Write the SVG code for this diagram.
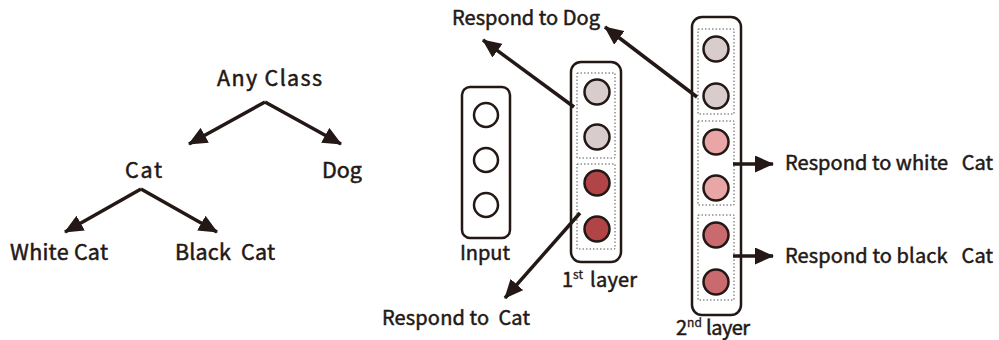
<svg xmlns="http://www.w3.org/2000/svg" width="999" height="340" viewBox="0 0 999 340">
<style>
text{font-family:"Noto Sans CJK SC","Noto Sans",sans-serif;font-size:20px;font-weight:400;fill:#231815;stroke:#231815;stroke-width:0.5}
.t{font-size:21.5px}
.sup{font-size:12px;stroke-width:0.3}
.edge{stroke:#231815;stroke-width:3.5;fill:none}
.box{fill:#fff;stroke:#231815;stroke-width:2.5}
.grp{fill:none;stroke:#555;stroke-width:1;stroke-dasharray:1.5 2}
.n{stroke:#231815;stroke-width:2.5}
.w{fill:#fff}
.g{fill:#d8cccd}
.r{fill:#b04446}
.p{fill:#e8a6a6}
.m{fill:#c86a6e}
</style>
<defs>
<marker id="ah" markerUnits="userSpaceOnUse" markerWidth="21" markerHeight="17" refX="18" refY="8.5" orient="auto">
<path d="M0,0 L19,8.5 L0,17 Z" fill="#231815"/>
</marker>
</defs>
<g id="tree-labels">
<g id="any"><text class="t" x="217" y="86" textLength="105" lengthAdjust="spacing">Any Class</text></g>
<g id="cat"><text class="t" x="125" y="178" textLength="37" lengthAdjust="spacing">Cat</text></g>
<g id="dog"><text class="t" x="322" y="178" textLength="40" lengthAdjust="spacing">Dog</text></g>
<g id="white"><text class="t" x="10" y="260" textLength="98" lengthAdjust="spacing">White Cat</text></g>
<g id="black"><text class="t" x="175" y="260" textLength="100" lengthAdjust="spacing" xml:space="preserve">Black  Cat</text></g>
</g>
<g id="input">
<rect class="box" x="462" y="87" width="48" height="151" rx="8"/>
<circle class="n w" cx="486" cy="115" r="12"/>
<circle class="n w" cx="486" cy="160" r="12"/>
<circle class="n w" cx="486" cy="205" r="12"/>
<text x="460" y="260" textLength="50" lengthAdjust="spacing">Input</text>
</g>
<g id="layer1">
<rect class="box" x="571" y="62" width="50" height="200" rx="10"/>
<rect class="grp" x="577" y="73" width="38" height="85"/>
<rect class="grp" x="577" y="164" width="38" height="85"/>
<circle class="n g" cx="597" cy="92" r="12.5"/>
<circle class="n g" cx="597" cy="137" r="12.5"/>
<circle class="n r" cx="597" cy="183" r="12.5"/>
<circle class="n r" cx="597" cy="229" r="12.5"/>
<text x="562" y="287">1<tspan class="sup" dy="-8">st</tspan><tspan x="590" dy="8" textLength="47" lengthAdjust="spacing">layer</tspan></text>
</g>
<g id="layer2">
<rect class="box" x="692" y="17" width="49" height="298" rx="10"/>
<rect class="grp" x="698" y="29" width="36" height="85"/>
<rect class="grp" x="698" y="121" width="36" height="84"/>
<rect class="grp" x="698" y="215" width="36" height="85"/>
<circle class="n g" cx="716" cy="49" r="12.5"/>
<circle class="n g" cx="716" cy="96" r="12.5"/>
<circle class="n p" cx="716" cy="142" r="12.5"/>
<circle class="n p" cx="716" cy="188" r="12.5"/>
<circle class="n m" cx="716" cy="235" r="12.5"/>
<circle class="n m" cx="716" cy="282" r="12.5"/>
<text x="676" y="335">2<tspan class="sup" dy="-8">nd</tspan><tspan x="706" dy="8" textLength="44" lengthAdjust="spacing">layer</tspan></text>
</g>
<g id="response-labels">
<text x="452" y="25" textLength="148" lengthAdjust="spacing">Respond to Dog</text>
<text x="382" y="325" textLength="148" lengthAdjust="spacing" xml:space="preserve">Respond to  Cat</text>
<text x="785" y="170" textLength="208" lengthAdjust="spacing" xml:space="preserve">Respond to white   Cat</text>
<text x="785" y="263" textLength="208" lengthAdjust="spacing" xml:space="preserve">Respond to black   Cat</text>
</g>
<g id="connectors">
<line class="edge" x1="265" y1="102" x2="189" y2="144" marker-end="url(#ah)"/>
<line class="edge" x1="265" y1="102" x2="341" y2="144" marker-end="url(#ah)"/>
<line class="edge" x1="141" y1="189" x2="65" y2="232" marker-end="url(#ah)"/>
<line class="edge" x1="141" y1="189" x2="217" y2="232" marker-end="url(#ah)"/>
<line class="edge" x1="574" y1="107" x2="483" y2="40" marker-end="url(#ah)"/>
<line class="edge" x1="697" y1="97" x2="605" y2="27" marker-end="url(#ah)"/>
<line class="edge" x1="580" y1="213" x2="505" y2="298" marker-end="url(#ah)"/>
<line class="edge" x1="733" y1="164" x2="773" y2="164" marker-end="url(#ah)"/>
<line class="edge" x1="733" y1="256" x2="773" y2="256" marker-end="url(#ah)"/>
</g>
</svg>
